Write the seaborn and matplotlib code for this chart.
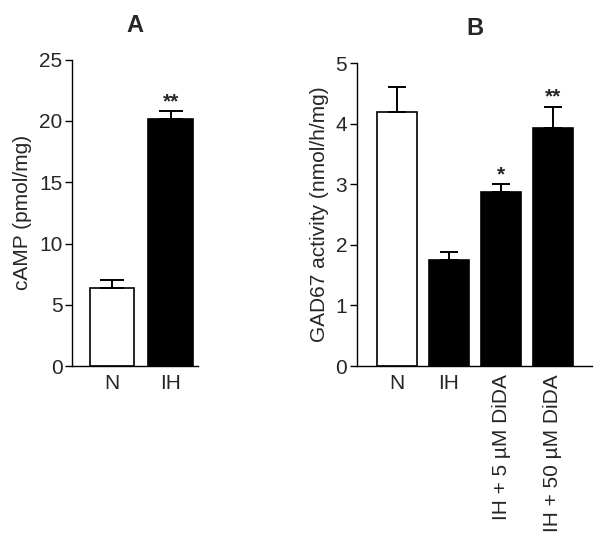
import matplotlib
matplotlib.use('Agg')
import matplotlib.pyplot as plt
import seaborn as sns
import pandas as pd

# Panel A: cAMP
a_groups = ['N', 'IH']
a_values = [6.4, 20.2]
a_errors = [0.6, 0.6]
a_stars = ['', '**']

# Panel B: GAD67 activity
b_groups = ['N', 'IH', 'IH + 5 µM DiDA', 'IH + 50 µM DiDA']
b_values = [4.2, 1.75, 2.88, 3.93]
b_errors = [0.4, 0.13, 0.12, 0.35]
b_stars = ['', '', '*', '**']

sns.set_style('ticks')
plt.rcParams['font.family'] = ['Liberation Sans', 'DejaVu Sans']

fig = plt.figure(figsize=(6.01, 5.48), dpi=100)
ax_a = fig.add_axes([0.120, 0.332, 0.209, 0.559])
ax_b = fig.add_axes([0.594, 0.332, 0.391, 0.553])


def draw_panel(ax, groups, values, errors, stars, ymax, ylabel, title, capsize, width):
    df = pd.DataFrame({'group': groups, 'value': values})
    colors = ['white'] + ['black'] * (len(groups) - 1)
    sns.barplot(data=df, x='group', y='value', hue='group', palette=colors,
                edgecolor='black', linewidth=1.2, width=width, legend=False, ax=ax)
    ax.errorbar(range(len(groups)), values, yerr=[[0] * len(groups), errors],
                fmt='none', ecolor='black', elinewidth=1.4, capsize=capsize, capthick=1.4)
    for i, s in enumerate(stars):
        if s:
            ax.text(i, values[i] + errors[i], s, ha='center', va='bottom',
                    fontsize=15, fontweight='bold')
    ax.set_ylim(0, ymax)
    ax.set_ylabel(ylabel, fontsize=15, labelpad=5)
    ax.set_xlabel('')
    ax.set_title(title, fontsize=17, fontweight='bold', pad=20)
    ax.tick_params(axis='y', labelsize=15, length=5, width=1, pad=2,
                   direction='out', color='black')
    ax.tick_params(axis='x', length=0, labelsize=15, pad=6)
    sns.despine(ax=ax)
    for sp in ['left', 'bottom']:
        ax.spines[sp].set_color('black')
        ax.spines[sp].set_linewidth(1)


draw_panel(ax_a, a_groups, a_values, a_errors, a_stars, 25, 'cAMP (pmol/mg)', 'A', 8.6, 0.76)
ax_a.set_yticks([0, 5, 10, 15, 20, 25])
ax_a.set_xlim(-0.68, 1.46)

draw_panel(ax_b, b_groups, b_values, b_errors, b_stars, 5, 'GAD67 activity (nmol/h/mg)', 'B', 6.8, 0.77)
ax_b.set_yticks([0, 1, 2, 3, 4, 5])
ax_b.set_xlim(-0.77, 3.75)
for lbl in ax_b.get_xticklabels():
    if len(lbl.get_text()) > 3:
        lbl.set_rotation(90)
        lbl.set_va('top')
        lbl.set_ha('center')

fig.savefig('out.png', dpi=100)
